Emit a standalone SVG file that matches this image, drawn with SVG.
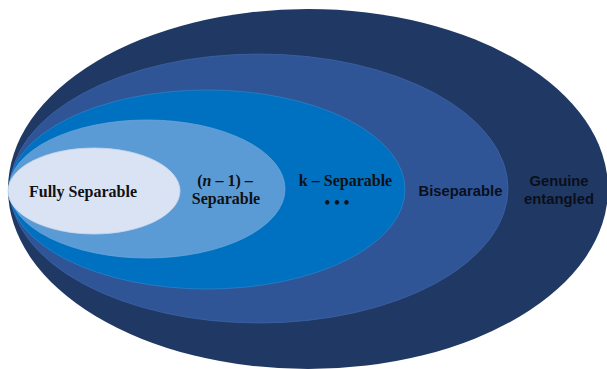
<svg xmlns="http://www.w3.org/2000/svg" width="607" height="369" viewBox="0 0 607 369">
<style>
.e{stroke-width:0.8}
.s{font-family:"Liberation Serif","DejaVu Serif",serif;font-weight:bold;font-size:16px;fill:#111}
.a{font-family:"Liberation Sans",Arial,sans-serif;font-weight:bold;font-size:14.8px;fill:#0a0f1a}
</style>
<rect width="607" height="369" fill="#fff"/>
<g id="genuine">
<ellipse class="e" cx="308" cy="189" rx="300" ry="180" fill="#203864"/>
<text class="a" x="559" y="186" text-anchor="middle">Genuine</text>
<text class="a" x="559" y="204" text-anchor="middle">entangled</text>
</g>
<g id="biseparable">
<ellipse class="e" cx="259" cy="188.5" rx="249" ry="134.5" fill="#2F5597" stroke="#3d63a6"/>
<text class="a" x="460.5" y="196" text-anchor="middle">Biseparable</text>
</g>
<g id="kseparable">
<ellipse class="e" cx="207" cy="189.5" rx="198" ry="99.5" fill="#0070C0" stroke="#2a80c8"/>
<text class="s" x="345.5" y="186" text-anchor="middle">k – Separable</text>
<text class="s" x="337" y="208" text-anchor="middle" font-size="22">• • •</text>
</g>
<g id="n1separable">
<ellipse class="e" cx="147" cy="189" rx="138" ry="69" fill="#5B9BD5" stroke="#6aa6dc"/>
<text class="s" x="225" y="186" text-anchor="middle">(<tspan font-style="italic">n</tspan> – 1) –</text>
<text class="s" x="226" y="204" text-anchor="middle">Separable</text>
</g>
<g id="fullyseparable">
<ellipse class="e" cx="94" cy="191" rx="86" ry="43" fill="#DAE3F3" stroke="#c8d4ea"/>
<text class="s" x="83" y="197" text-anchor="middle">Fully Separable</text>
</g>
<g id="connectors"/>
</svg>
